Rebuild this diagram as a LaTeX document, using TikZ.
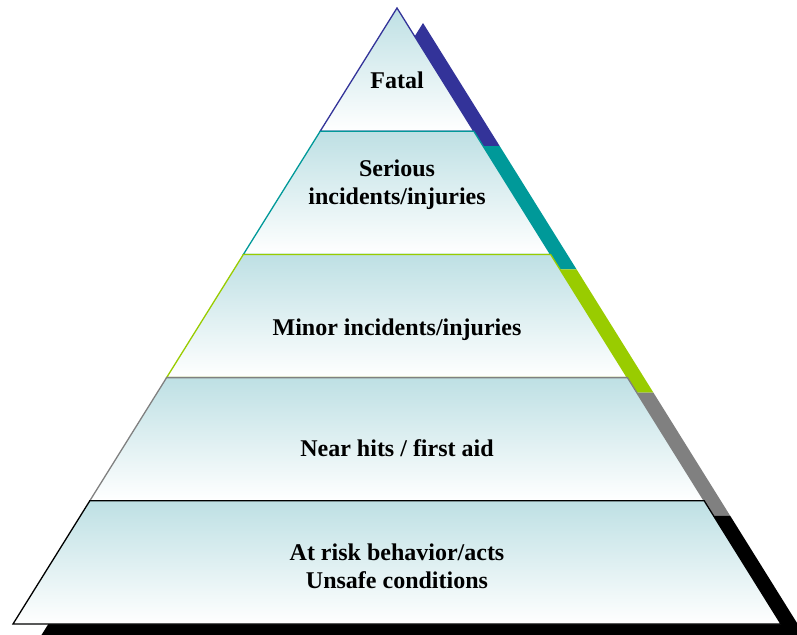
\documentclass[tikz,border=0pt]{standalone}
\usepackage{fontspec}
\setmainfont{Liberation Serif}
\definecolor{fatal}{RGB}{51, 51, 153}
\definecolor{serious}{RGB}{0, 153, 153}
\definecolor{minor}{RGB}{153, 204, 0}
\definecolor{nearhit}{RGB}{128, 128, 128}
\definecolor{atrisk}{RGB}{0, 0, 0}
\definecolor{pale}{RGB}{190, 224, 228}
\newcommand*{\shx}{26}
\newcommand*{\shy}{15}
\tikzset{
  tier/.style={top color=pale, bottom color=white, line width=1.3pt},
  tiertext/.style={font=\bfseries\fontsize{24}{28}\selectfont, align=center}
}

\begin{document}
\begin{tikzpicture}[x=1pt, y=-1pt]
  \useasboundingbox (0, 0) rectangle (797, 634);

  \begin{scope}[shift={(\shx, \shy)}]
    \fill [fatal] (397, 8) -- (473.8, 131.2) -- (320.2, 131.2) -- cycle;
    \fill [serious] (320.2, 131.2) -- (473.8, 131.2) -- (550.6, 254.4) -- (243.4, 254.4) -- cycle;
    \fill [minor] (243.4, 254.4) -- (550.6, 254.4) -- (627.4, 377.6) -- (166.6, 377.6) -- cycle;
    \fill [nearhit] (166.6, 377.6) -- (627.4, 377.6) -- (704.2, 500.8) -- (89.8, 500.8) -- cycle;
    \fill [atrisk] (89.8, 500.8) -- (704.2, 500.8) -- (781, 624) -- (13, 624) -- cycle;
  \end{scope}

  \draw [tier, draw=fatal] (397, 8) -- (473.8, 131.2) -- (320.2, 131.2) -- cycle;
  \draw [tier, draw=serious] (320.2, 131.2) -- (473.8, 131.2) -- (550.6, 254.4) -- (243.4, 254.4) -- cycle;
  \draw [tier, draw=minor] (243.4, 254.4) -- (550.6, 254.4) -- (627.4, 377.6) -- (166.6, 377.6) -- cycle;
  \draw [tier, draw=nearhit] (166.6, 377.6) -- (627.4, 377.6) -- (704.2, 500.8) -- (89.8, 500.8) -- cycle;
  \draw [tier, draw=atrisk] (89.8, 500.8) -- (704.2, 500.8) -- (781, 624) -- (13, 624) -- cycle;

  \node[tiertext] (fataltext) at (397, 80) {Fatal};
  \node[tiertext] (serioustext) at (397, 185) {Serious\\incidents/injuries};
  \node[tiertext] (minortext) at (397, 330) {Minor incidents/injuries};
  \node[tiertext] (neartext) at (397, 448) {Near hits / first aid};
  \node[tiertext] (risktext) at (397, 566) {At risk behavior/acts\\Unsafe conditions};
\end{tikzpicture}
\end{document}
